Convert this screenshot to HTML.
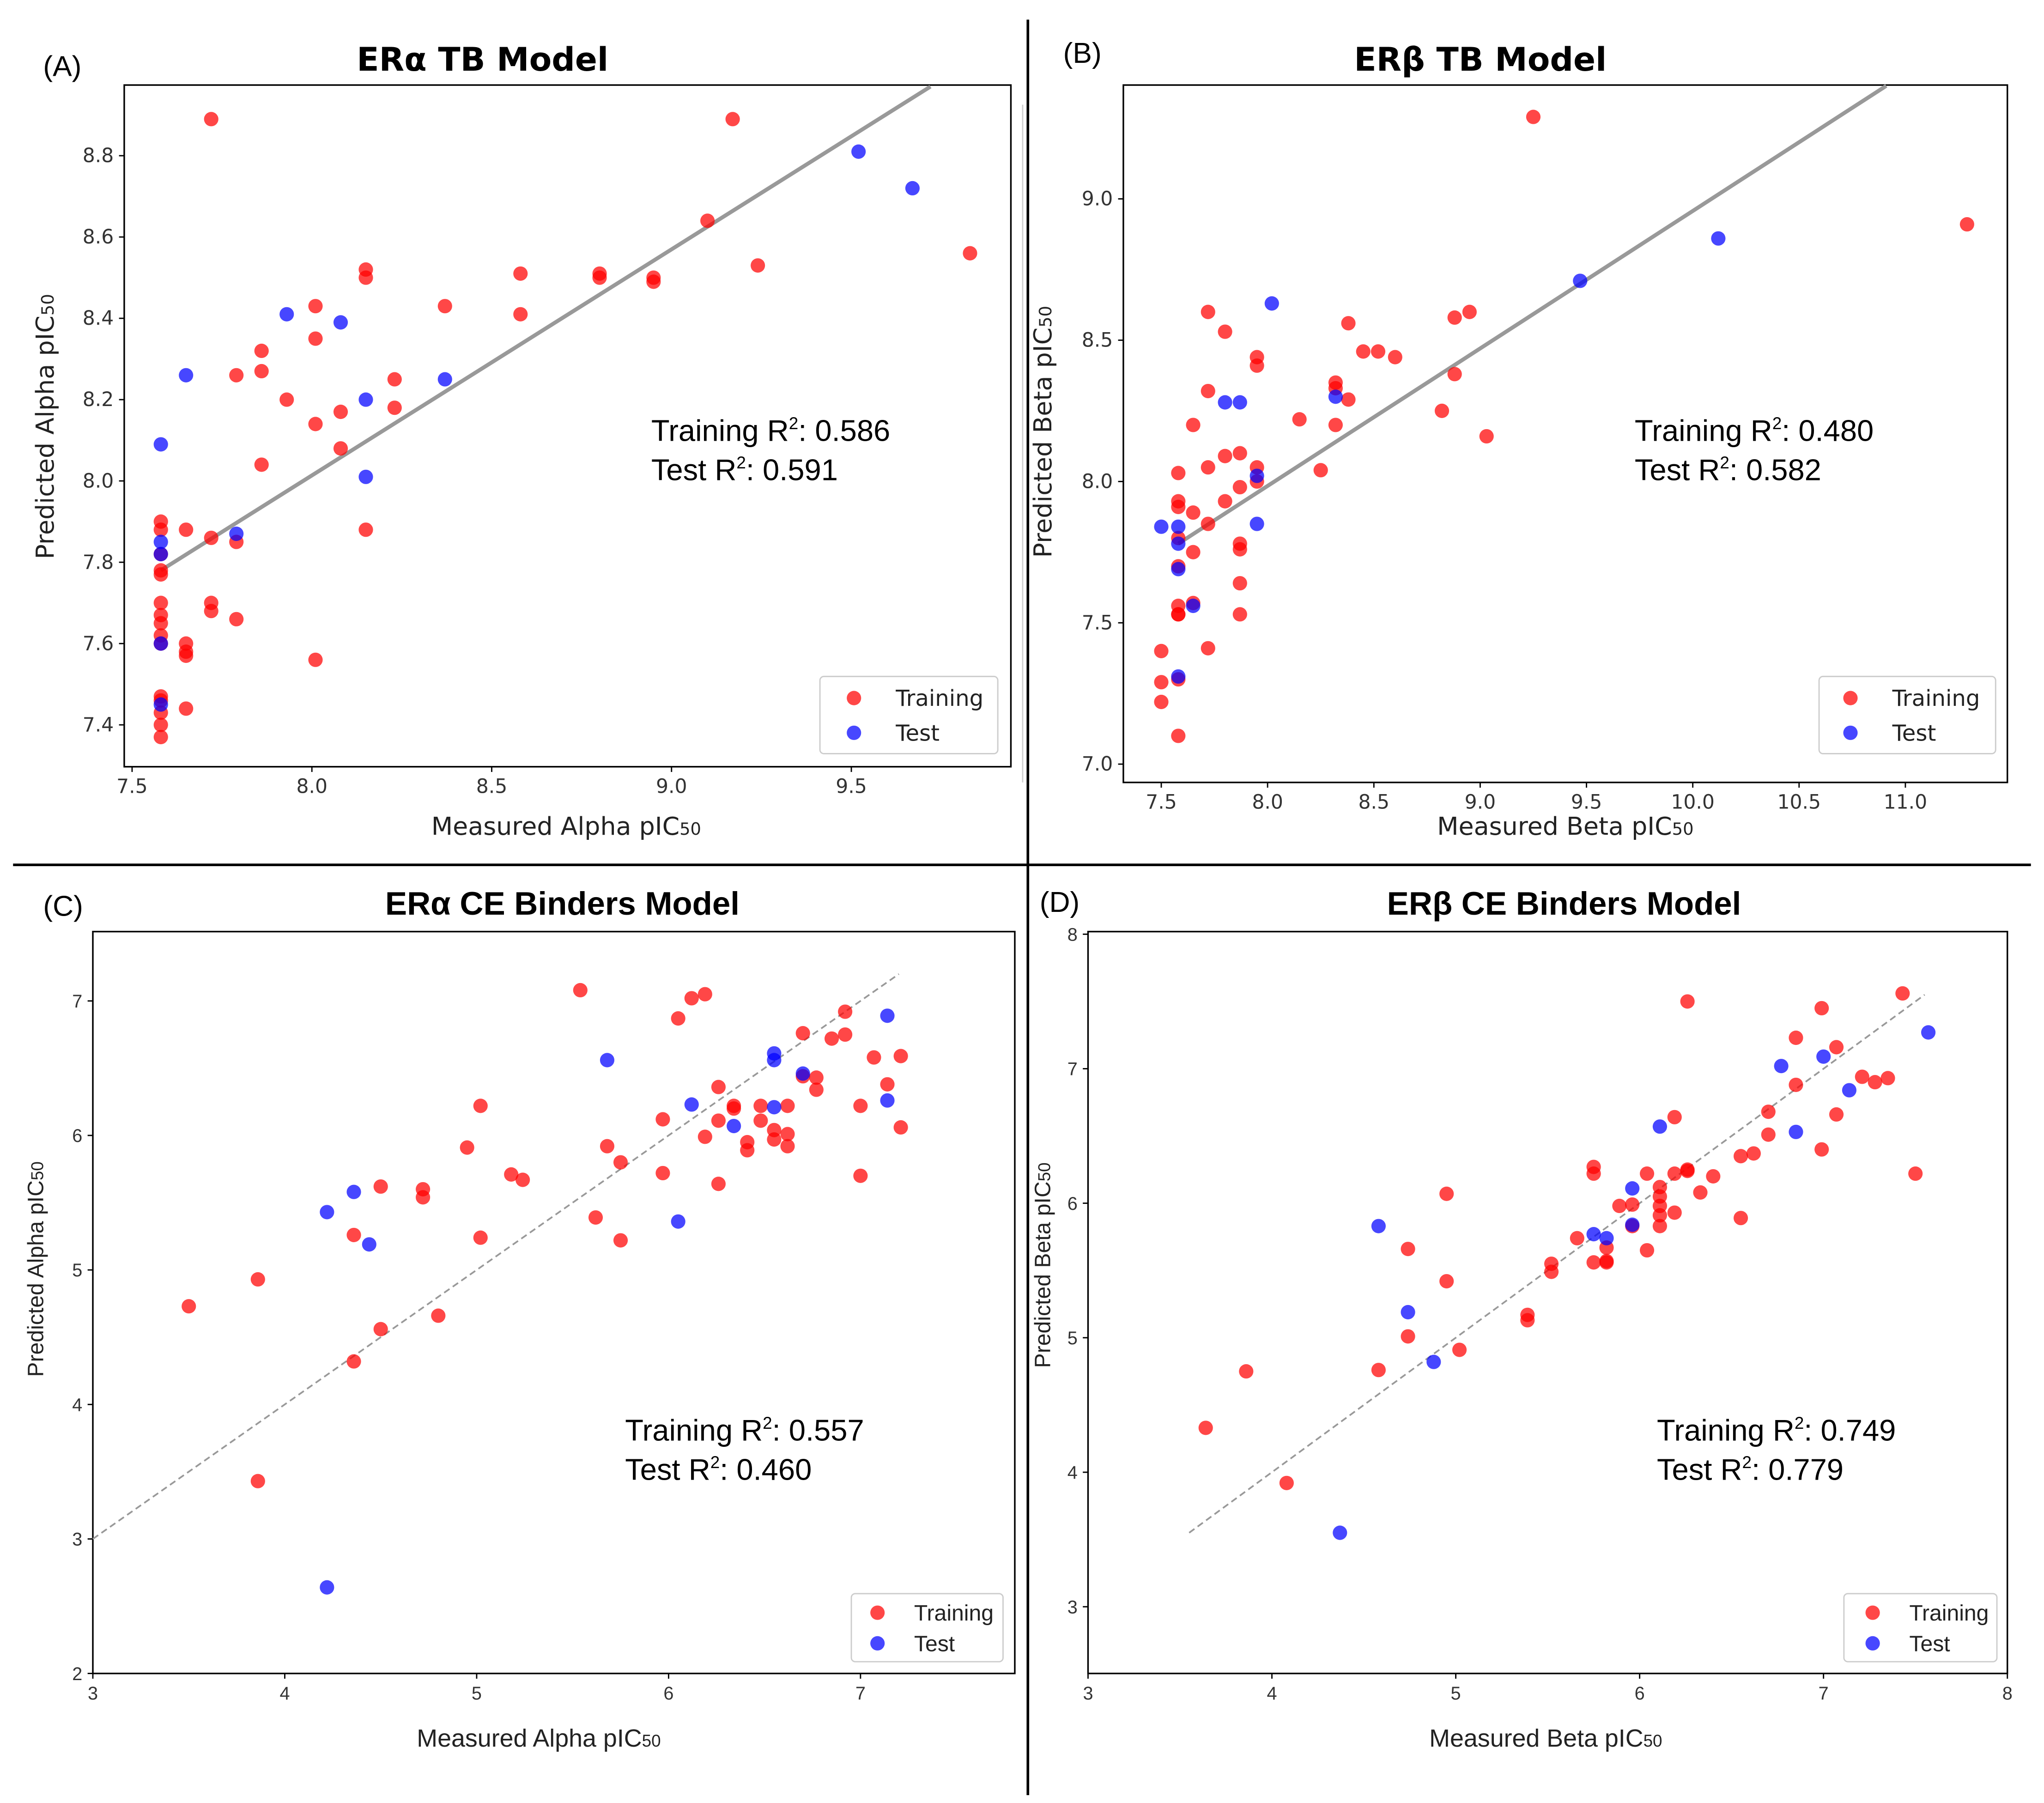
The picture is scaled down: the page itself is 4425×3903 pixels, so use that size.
<!DOCTYPE html>
<html><head><meta charset="utf-8"><style>
html,body{margin:0;padding:0;background:#fff}
svg{display:block}
.dj{font-family:"DejaVu Sans","Liberation Sans",sans-serif}
.lb{font-family:"Liberation Sans",sans-serif}
</style></head><body>
<svg id="fig" width="4425" height="3903" viewBox="0 0 1563 1378" preserveAspectRatio="none" xmlns="http://www.w3.org/2000/svg">
<rect width="1563" height="1378" fill="#fff"/>
<line x1="786" y1="15" x2="786" y2="1372" stroke="#000" stroke-width="2"/>
<line x1="10" y1="661" x2="1553" y2="661" stroke="#000" stroke-width="2"/>
<line x1="782" y1="80" x2="782" y2="598" stroke="#ccc" stroke-width="1"/>
</svg>
<script>
// Panel A data
const aTrainX=[7.58,7.58,7.58,7.58,7.58,7.58,7.58,7.58,7.58,7.58,7.58,7.58,7.58,7.58,7.58,7.65,7.65,7.65,7.65,7.65,7.72,7.72,7.72,7.72,7.79,7.79,7.79,7.86,7.86,7.86,7.93,8.01,8.01,8.01,8.01,8.08,8.08,8.15,8.15,8.15,8.23,8.23,8.37,8.58,8.58,8.80,8.80,8.95,8.95,9.10,9.17,9.24,9.83];
const aTrainY=[7.37,7.40,7.43,7.46,7.47,7.60,7.62,7.65,7.67,7.70,7.77,7.78,7.82,7.88,7.90,7.44,7.57,7.58,7.60,7.88,8.89,7.68,7.70,7.86,8.26,7.66,7.85,8.32,8.27,8.04,8.20,8.43,8.35,8.14,7.56,8.17,8.08,8.52,8.50,7.88,8.25,8.18,8.43,8.51,8.41,8.51,8.50,8.50,8.49,8.64,8.89,8.53,8.56];
const aTestX=[7.58,7.58,7.58,7.58,7.58,7.65,7.79,7.93,8.08,8.15,8.15,8.37,9.52,9.67];
const aTestY=[8.09,7.85,7.82,7.60,7.45,8.26,7.87,8.41,8.39,8.20,8.01,8.25,8.81,8.72];
const aXTicks=[7.5,8.0,8.5,9.0,9.5];
const aYTicks=[7.4,7.6,7.8,8.0,8.2,8.4,8.6,8.8];
const aFit=[7.58,7.78,9.72,8.97];
// Panel B data
const bTrainX=[7.5,7.5,7.5,7.58,7.58,7.58,7.58,7.58,7.58,7.58,7.58,7.58,7.58,7.65,7.65,7.65,7.65,7.72,7.72,7.72,7.72,7.72,7.8,7.8,7.8,7.87,7.87,7.87,7.87,7.87,7.87,7.95,7.95,7.95,7.95,8.15,8.25,8.32,8.32,8.32,8.38,8.38,8.45,8.52,8.6,8.82,8.88,8.88,8.95,9.03,9.25,11.29];
const bTrainY=[7.40,7.29,7.22,8.03,7.93,7.91,7.80,7.70,7.56,7.53,7.53,7.30,7.10,8.20,7.89,7.75,7.57,8.60,8.32,8.05,7.85,7.41,8.53,8.09,7.93,8.10,7.98,7.78,7.76,7.64,7.53,8.44,8.41,8.05,8.00,8.22,8.04,8.35,8.33,8.20,8.56,8.29,8.46,8.46,8.44,8.25,8.58,8.38,8.60,8.16,9.29,8.91];
const bTestX=[7.5,7.58,7.58,7.58,7.58,7.65,7.8,7.87,7.95,7.95,8.02,8.32,9.47,10.12];
const bTestY=[7.84,7.84,7.78,7.69,7.31,7.56,8.28,8.28,8.02,7.85,8.63,8.30,8.71,8.86];
const bXTicks=[7.5,8.0,8.5,9.0,9.5,10.0,10.5,11.0];
const bYTicks=[7.0,7.5,8.0,8.5,9.0];
const bFit=[7.58,7.78,10.91,9.40];
// Panel C data
const cTrainX=[3.5,3.86,3.86,4.36,4.36,4.5,4.5,4.72,4.72,4.8,4.95,5.02,5.02,5.18,5.24,5.54,5.62,5.68,5.75,5.75,5.97,5.97,6.05,6.12,6.19,6.19,6.26,6.26,6.26,6.34,6.34,6.41,6.41,6.48,6.48,6.55,6.55,6.62,6.62,6.62,6.70,6.70,6.77,6.77,6.85,6.92,6.92,7.0,7.0,7.07,7.14,7.21,7.21];
const cTrainY=[4.73,4.93,3.43,5.26,4.32,5.62,4.56,5.60,5.54,4.66,5.91,6.22,5.24,5.71,5.67,7.08,5.39,5.92,5.80,5.22,6.12,5.72,6.87,7.02,7.05,5.99,6.36,6.11,5.64,6.22,6.20,5.95,5.89,6.22,6.11,6.04,5.97,6.22,6.01,5.92,6.76,6.44,6.43,6.34,6.72,6.92,6.75,6.22,5.70,6.58,6.38,6.59,6.06];
const cTestX=[4.22,4.22,4.36,4.44,5.68,6.05,6.12,6.34,6.55,6.55,6.55,6.70,7.14,7.14];
const cTestY=[5.43,2.64,5.58,5.19,6.56,5.36,6.23,6.07,6.61,6.56,6.21,6.46,6.89,6.26];
const cXTicks=[3,4,5,6,7];
const cYTicks=[2,3,4,5,6,7];
const cFit=[3,3,7.2,7.2];
// Panel D data
const dTrainX=[3.64,3.86,4.08,4.58,4.74,4.74,4.95,4.95,5.02,5.39,5.39,5.52,5.52,5.66,5.75,5.75,5.75,5.82,5.82,5.82,5.89,5.96,5.96,6.04,6.04,6.11,6.11,6.11,6.11,6.11,6.19,6.19,6.19,6.26,6.26,6.26,6.33,6.40,6.55,6.55,6.62,6.70,6.70,6.85,6.85,6.99,6.99,7.07,7.07,7.21,7.28,7.35,7.43,7.50];
const dTrainY=[4.33,4.75,3.92,4.76,5.66,5.01,6.07,5.42,4.91,5.17,5.13,5.55,5.49,5.74,6.27,6.22,5.56,5.56,5.57,5.67,5.98,5.99,5.83,6.22,5.65,6.12,6.05,5.98,5.91,5.83,6.64,6.22,5.93,7.50,6.25,6.24,6.08,6.20,6.35,5.89,6.37,6.68,6.51,7.23,6.88,7.45,6.40,7.16,6.66,6.94,6.90,6.93,7.56,6.22];
const dTestX=[4.37,4.58,4.74,4.88,5.75,5.82,5.96,5.96,6.11,6.77,6.85,7.00,7.14,7.57];
const dTestY=[3.55,5.83,5.19,4.82,5.77,5.74,6.11,5.84,6.57,7.02,6.53,7.09,6.84,7.27];
const dXTicks=[3,4,5,6,7,8];
const dYTicks=[3,4,5,6,7,8];
const dFit=[3.55,3.55,7.55,7.55];

const NS="http://www.w3.org/2000/svg";
const svg=document.getElementById('fig');
function mk(tag,attrs,parent,text){const e=document.createElementNS(NS,tag);for(const k in attrs)e.setAttribute(k,attrs[k]);if(text!==undefined)e.textContent=text;(parent||svg).appendChild(e);return e;}

function panel(o){
  const g=mk('g',{'class':o.cls});
  
  
  const sx=v=>o.px0+(v-o.x0)*(o.px1-o.px0)/(o.x1-o.x0);
  const sy=v=>o.py0+(v-o.y0)*(o.py1-o.py0)/(o.y1-o.y0);
  const box=mk('rect',{x:o.bx0,y:o.by0,width:o.bx1-o.bx0,height:o.by1-o.by0,fill:'none',stroke:'#000','stroke-width':1.2},g);
  
  
  o.xt.forEach(v=>{const x=sx(v);mk('line',{x1:x,y1:o.by1,x2:x,y2:o.by1+4,stroke:'#000'},g);
    const t=mk('text',{x:x,y:o.by1+20,'text-anchor':'middle','font-size':o.tfs,fill:'#333'},g,o.fmt(v));
    
    });
  o.yt.forEach(v=>{const y=sy(v);mk('line',{x1:o.bx0-4,y1:y,x2:o.bx0,y2:y,stroke:'#000'},g);
    const t=mk('text',{x:o.bx0-8,y:y+5,'text-anchor':'end','font-size':o.tfs,fill:'#333'},g,o.fmt(v));
    
    });
  const f=o.fit;
  const ln=mk('line',{x1:sx(f[0]),y1:sy(f[1]),x2:sx(f[2]),y2:sy(f[3]),stroke:'#999','stroke-width':o.dash?1.3:3,'stroke-dasharray':o.dash?'5,3':'none'},g);
  
  
  o.trX.forEach((v,i)=>{const c=mk('circle',{cx:sx(v),cy:sy(o.trY[i]),r:5.5,fill:'rgba(255,0,0,0.72)'},g);
    
    });
  o.teX.forEach((v,i)=>{const c=mk('circle',{cx:sx(v),cy:sy(o.teY[i]),r:5.5,fill:'rgba(0,0,255,0.72)'},g);
    
    });
  const ti=mk('text',{x:o.tx,y:o.ty,'text-anchor':'middle','font-size':25,'font-weight':'bold',fill:'#000'},g,o.title);
  
  
  const lt=mk('text',{x:o.lx,y:o.ly,'font-size':22,fill:'#000','class':'lb'},g,o.letter);
  
  
  const xl=mk('text',{x:o.xlx,y:o.xly,'text-anchor':'middle','font-size':19,fill:'#222'},g);
  xl.innerHTML=o.xlab+' pIC<tspan font-size="13">50</tspan>';
  
  
  const yl=mk('text',{x:0,y:0,'text-anchor':'middle','font-size':o.ylfs,fill:'#222',transform:`translate(${o.ylx},${o.yly}) rotate(-90)`},g);
  yl.innerHTML=o.ylab+' pIC<tspan font-size="13">50</tspan>';
  
  
  const r1=mk('text',{x:o.rx,y:o.ry,'font-size':23,fill:'#000','class':'lb'},g);
  r1.innerHTML='Training R<tspan font-size="13" dy="-9">2</tspan><tspan dy="9">: '+o.r2a+'</tspan>';
  
  
  const r2=mk('text',{x:o.rx,y:o.ry+30,'font-size':23,fill:'#000','class':'lb'},g);
  r2.innerHTML='Test R<tspan font-size="13" dy="-9">2</tspan><tspan dy="9">: '+o.r2b+'</tspan>';
  
  
  const L=o.leg;
  const lg=mk('g',{},g);
  
  
  mk('rect',{x:L[0],y:L[1],width:L[2],height:L[3],rx:3,fill:'#fff',stroke:'#ccc'},lg);
  mk('circle',{cx:L[4],cy:L[1]+L[3]*0.28,r:5.5,fill:'rgba(255,0,0,0.72)'},lg);
  mk('circle',{cx:L[4],cy:L[1]+L[3]*0.73,r:5.5,fill:'rgba(0,0,255,0.72)'},lg);
  mk('text',{x:L[5],y:L[1]+L[3]*0.28+6,'font-size':17,fill:'#222'},lg,'Training');
  mk('text',{x:L[5],y:L[1]+L[3]*0.73+6,'font-size':17,fill:'#222'},lg,'Test');
}
const f1=v=>v.toFixed(1), f0=v=>String(v);
panel({name:'panel-a',cls:'dj',bx0:95,bx1:773,by0:65,by1:586,x0:7.5,x1:9.5,px0:101,px1:651,y0:7.4,y1:8.8,py0:554,py1:119,
  xt:aXTicks,yt:aYTicks,fmt:f1,tfs:15,fit:aFit,dash:false,trX:aTrainX,trY:aTrainY,teX:aTestX,teY:aTestY,
  title:'ERα TB Model',tx:369,ty:54,letter:'(A)',lx:33,ly:58,xlab:'Measured Alpha',xlx:433,xly:638,ylab:'Predicted Alpha',ylx:41,yly:326,ylfs:19,
  rx:498,ry:337,r2a:'0.586',r2b:'0.591',leg:[627,517,136,59,653,685]});
panel({name:'panel-b',cls:'dj',bx0:859,bx1:1535,by0:65,by1:598,x0:7.5,x1:11.0,px0:888,px1:1457,y0:7.0,y1:9.0,py0:584,py1:152,
  xt:bXTicks,yt:bYTicks,fmt:f1,tfs:15,fit:bFit,dash:false,trX:bTrainX,trY:bTrainY,teX:bTestX,teY:bTestY,
  title:'ERβ TB Model',tx:1132,ty:54,letter:'(B)',lx:813,ly:48,xlab:'Measured Beta',xlx:1197,xly:638,ylab:'Predicted Beta',ylx:804,yly:330,ylfs:19,
  rx:1250,ry:337,r2a:'0.480',r2b:'0.582',leg:[1391,517,135,59,1415,1447]});
panel({name:'panel-c',cls:'lb',bx0:71,bx1:776,by0:712,by1:1279,x0:3,x1:7,px0:71,px1:658,y0:2,y1:7,py0:1279,py1:765,
  xt:cXTicks,yt:cYTicks,fmt:f0,tfs:14,fit:cFit,dash:true,trX:cTrainX,trY:cTrainY,teX:cTestX,teY:cTestY,
  title:'ERα CE Binders Model',tx:430,ty:699,letter:'(C)',lx:33,ly:700,xlab:'Measured Alpha',xlx:412,xly:1335,ylab:'Predicted Alpha',ylx:33,yly:970,ylfs:17,
  rx:478,ry:1101,r2a:'0.557',r2b:'0.460',leg:[651,1218,116,52,671,699]});
panel({name:'panel-d',cls:'lb',bx0:832,bx1:1535,by0:712,by1:1279,x0:3,x1:8,px0:832,px1:1535,y0:3,y1:8,py0:1228,py1:714,
  xt:dXTicks,yt:dYTicks,fmt:f0,tfs:14,fit:dFit,dash:true,trX:dTrainX,trY:dTrainY,teX:dTestX,teY:dTestY,
  title:'ERβ CE Binders Model',tx:1196,ty:699,letter:'(D)',lx:795,ly:697,xlab:'Measured Beta',xlx:1182,xly:1335,ylab:'Predicted Beta',ylx:803,yly:967,ylfs:17,
  rx:1267,ry:1101,r2a:'0.749',r2b:'0.779',leg:[1410,1218,117,52,1432,1460]});
</script>
</body></html>
